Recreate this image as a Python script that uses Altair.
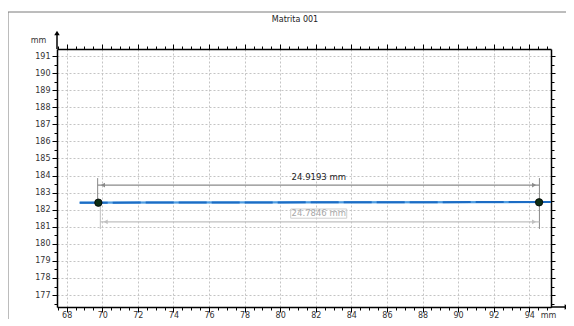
import altair as alt
import pandas as pd
import numpy as np

# ---- text ----
chart_title = "Matrita 001"
unit_label = "mm"

# ---- scales / ticks ----
x_domain = [67.455, 95.22]
y_domain = [176.30, 191.41]
x_tick_values = list(np.arange(67.5, 95.01, 0.5))   # labelled every 2 mm
y_tick_values = list(np.arange(176.5, 191.01, 0.5))  # labelled every 1 mm

# ---- measured profile (blue line) ----
profile_x = [68.73, 95.22]
profile_y = [182.41, 182.45]

# ---- measurement points ----
point_x = [69.78, 94.55]
point_y = [182.41, 182.43]

# ---- dimension lines ----
dim_names = ["upper", "lower"]
dim_x1 = [69.74, 69.89]
dim_x2 = [94.57, 94.57]
dim_y = [183.44, 181.29]
dim_labels = ["24.9193 mm", "24.7846 mm"]
dim_label_x = [82.17, 82.17]
dim_label_y = [183.89, 181.79]
dim_colors = ["#8a8a8a", "#c0c0c0"]
dim_text_colors = ["#222222", "#a8a8a8"]

# extension lines
ext_x = [69.74, 69.89, 94.57]
ext_y1 = [183.85, 182.41, 183.85]
ext_y2 = [182.41, 180.87, 180.87]
ext_kind = ["upper", "lower", "upper"]

# label box of the lower dimension
box_x = [80.59, 83.74]
box_y = [181.50, 182.04]

FONT = "DejaVu Sans"
W, H = 494, 258

xs = alt.Scale(domain=x_domain, nice=False, zero=False)
ys = alt.Scale(domain=y_domain, nice=False, zero=False)


def cond(test, a, b):
    return {"condition": {"test": test, "value": a}, "value": b}


x_even = "abs(datum.value % 2) < 0.001"
y_int = "abs(datum.value % 1) < 0.001"

x_bottom = alt.Axis(
    orient="bottom", values=x_tick_values,
    labelExpr=f"{x_even} ? format(datum.value, 'd') : ''",
    tickSize=cond(x_even, 5, 3), tickColor="black", tickWidth=1,
    grid=True, gridOpacity=cond(x_even, 1, 0), gridDash=[2, 2],
    gridColor="#c4c4c4", gridWidth=1,
    domainColor="black", domainWidth=1.5,
    labelFont=FONT, labelFontSize=8, labelColor="#333", labelPadding=3,
    labelBaseline="middle",
    labelOverlap=False, labelFlush=False,
    title=unit_label, titleX=491, titleY=8, titleBaseline="middle",
    titleAlign="center", titleFont=FONT, titleFontSize=8,
    titleFontWeight="normal", titleColor="#333",
)
y_left = alt.Axis(
    orient="left", values=y_tick_values,
    labelExpr=f"{y_int} ? format(datum.value, 'd') : ''",
    tickSize=cond(y_int, 5, 3), tickColor="black", tickWidth=1,
    grid=True, gridOpacity=cond(y_int, 1, 0), gridDash=[2, 2],
    gridColor="#c4c4c4", gridWidth=1,
    domainColor="black", domainWidth=1.5,
    labelFont=FONT, labelFontSize=8, labelColor="#333", labelPadding=2,
    labelOverlap=False, labelFlush=False,
    title=unit_label, titleX=-19, titleY=-9, titleAngle=0,
    titleBaseline="middle", titleAlign="center", titleFont=FONT,
    titleFontSize=8, titleFontWeight="normal", titleColor="#333",
)
x_top = alt.Axis(
    orient="top", values=x_tick_values, labels=False,
    tickSize=cond(x_even, 5, 3), tickColor="black", tickWidth=1,
    grid=False, domainColor="black", domainWidth=1.5, title="",
)
y_right = alt.Axis(
    orient="right", values=y_tick_values, labels=False,
    tickSize=cond(y_int, 4, 3), tickColor="black", tickWidth=1,
    grid=False, domainColor="black", domainWidth=1.5, title="",
)

profile_df = pd.DataFrame({"x": profile_x, "y": profile_y})
points_df = pd.DataFrame({"x": point_x, "y": point_y})
dims_df = pd.DataFrame({
    "name": dim_names, "x1": dim_x1, "x2": dim_x2, "y": dim_y,
    "label": dim_labels, "lx": dim_label_x, "ly": dim_label_y,
    "color": dim_colors, "tcolor": dim_text_colors,
})
ext_df = pd.DataFrame({"x": ext_x, "y1": ext_y1, "y2": ext_y2, "name": ext_kind})
ext_df = ext_df.merge(dims_df[["name", "color"]], on="name")
box_df = pd.DataFrame({"x1": [box_x[0]], "x2": [box_x[1]],
                       "y1": [box_y[0]], "y2": [box_y[1]]})
arrows_df = pd.DataFrame({
    "x": [a + 0.3 for a in dim_x1] + [b - 0.3 for b in dim_x2],
    "y": dim_y + dim_y,
    "shape": ["triangle-left"] * 2 + ["triangle-right"] * 2,
    "color": dim_colors + dim_colors,
})

one = alt.Data(values=[{}])

# axis layers
base_axes = alt.Chart(profile_df).mark_line(
    color="#4f9de2", strokeWidth=2.2
).encode(
    x=alt.X("x:Q", scale=xs, axis=x_bottom),
    y=alt.Y("y:Q", scale=ys, axis=y_left),
)
top_right = alt.Chart(profile_df).mark_line(opacity=0).encode(
    x=alt.X("x:Q", scale=xs, axis=x_top),
    y=alt.Y("y:Q", scale=ys, axis=y_right),
)
profile_dash = alt.Chart(profile_df).mark_line(
    color="#1c6cc4", strokeWidth=2, strokeDash=[28, 5]
).encode(
    x=alt.X("x:Q", scale=xs, axis=None),
    y=alt.Y("y:Q", scale=ys, axis=None),
)

ext_lines = alt.Chart(ext_df).mark_rule(strokeWidth=1).encode(
    x=alt.X("x:Q", scale=xs, axis=None),
    y=alt.Y("y1:Q", scale=ys, axis=None),
    y2="y2:Q",
    color=alt.Color("color:N", scale=None),
)
dim_lines = alt.Chart(dims_df).mark_rule(strokeWidth=1.2).encode(
    x=alt.X("x1:Q", scale=xs, axis=None),
    x2="x2:Q",
    y=alt.Y("y:Q", scale=ys, axis=None),
    color=alt.Color("color:N", scale=None),
)
dim_arrows = alt.Chart(arrows_df).mark_point(filled=True, size=22, opacity=1).encode(
    x=alt.X("x:Q", scale=xs, axis=None),
    y=alt.Y("y:Q", scale=ys, axis=None),
    shape=alt.Shape("shape:N", scale=None),
    color=alt.Color("color:N", scale=None),
)
label_box = alt.Chart(box_df).mark_rect(
    fillOpacity=0, stroke="#cfcfcf", strokeWidth=1
).encode(
    x=alt.X("x1:Q", scale=xs, axis=None), x2="x2:Q",
    y=alt.Y("y1:Q", scale=ys, axis=None), y2="y2:Q",
)
dim_text = alt.Chart(dims_df).mark_text(
    font=FONT, fontSize=8.5, baseline="middle", align="center"
).encode(
    x=alt.X("lx:Q", scale=xs, axis=None),
    y=alt.Y("ly:Q", scale=ys, axis=None),
    text="label:N",
    color=alt.Color("tcolor:N", scale=None),
)
pts = alt.Chart(points_df).mark_point(
    filled=True, shape="circle", size=55, color="#0d2e14", opacity=1,
    stroke="#000000", strokeWidth=0.8
).encode(
    x=alt.X("x:Q", scale=xs, axis=None),
    y=alt.Y("y:Q", scale=ys, axis=None),
)

# decorations (axis arrows, frame, title)
y_arrow_line = alt.Chart(one).mark_rule(color="black", strokeWidth=1.5).encode(
    x=alt.value(0), y=alt.value(-15), y2=alt.value(0))
y_arrow_head = alt.Chart(one).mark_point(
    shape="triangle-up", filled=True, size=30, color="black", opacity=1
).encode(x=alt.value(0), y=alt.value(-16))
x_arrow_line = alt.Chart(one).mark_rule(color="black", strokeWidth=1.5).encode(
    x=alt.value(W), x2=alt.value(W + 15), y=alt.value(H))
x_arrow_head = alt.Chart(one).mark_point(
    shape="triangle-right", filled=True, size=30, color="black", opacity=1
).encode(x=alt.value(W + 16), y=alt.value(H))
frame_top = alt.Chart(one).mark_rule(color="#7a7a7a", strokeWidth=1).encode(
    x=alt.value(-49), x2=alt.value(W + 80), y=alt.value(-37))
frame_left = alt.Chart(one).mark_rule(color="#7a7a7a", strokeWidth=1).encode(
    x=alt.value(-49), y=alt.value(-37), y2=alt.value(H + 80))
title_mark = alt.Chart(one).mark_text(
    text=chart_title, font=FONT, fontSize=8, color="#222",
    align="center", baseline="middle"
).encode(x=alt.value(238), y=alt.value(-29))

chart = alt.layer(
    base_axes, top_right, profile_dash, ext_lines, dim_lines, dim_arrows,
    label_box, dim_text, pts,
    y_arrow_line, y_arrow_head, x_arrow_line, x_arrow_head,
    frame_top, frame_left, title_mark,
).resolve_axis(
    x="independent", y="independent"
).properties(
    width=W, height=H,
    autosize=alt.AutoSizeParams(type="none"),
    padding={"left": 49, "top": 41, "right": 15, "bottom": 12},
    background="white",
).configure_view(strokeOpacity=0)

chart.save("out.html", embed_options={"renderer": "svg", "actions": False})
